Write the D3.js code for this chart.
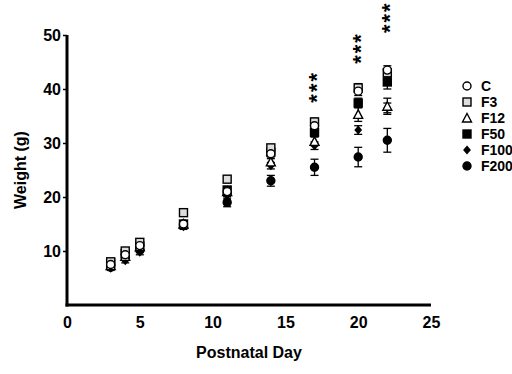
<!DOCTYPE html>
<html>
<head>
<meta charset="utf-8">
<script src="https://cdn.jsdelivr.net/npm/d3@7"></script>
<style>
  body { margin: 0; background: #fff; }
  text { font-family: "Liberation Sans", Arial, sans-serif; font-weight: bold; }
</style>
</head>
<body>
<div id="chart"></div>
<script>
"use strict";

// postnatal days and body weight (g) per group
const days = [3, 4, 5, 8, 11, 14, 17, 20, 22];
const groups = ["C", "F3", "F12", "F50", "F100", "F200"];

const weightC    = [7.5, 9.3, 11.0, 15.0, 21.0, 28.0, 33.2, 39.6, 43.5];
const weightF3   = [8.0, 10.0, 11.6, 17.1, 23.3, 29.1, 33.9, 40.2, 43.0];
const weightF12  = [7.3, 9.0, 10.8, 15.0, 21.0, 26.5, 30.3, 35.3, 36.8];
const weightF50  = [7.8, 9.5, 10.9, 15.0, 21.3, 28.3, 32.0, 37.4, 41.3];
const weightF100 = [6.8, 8.2, 9.8, 14.5, 19.5, 25.8, 29.5, 32.4, 36.5];
const weightF200 = [7.0, 8.8, 10.2, 14.8, 19.0, 23.0, 25.5, 27.4, 30.5];

const semC    = [0.4, 0.4, 0.5, 0.5, 0.6, 0.6, 0.7, 0.8, 0.8];
const semF3   = [0.4, 0.4, 0.5, 0.5, 0.6, 0.6, 0.7, 0.8, 0.8];
const semF12  = [0.4, 0.4, 0.5, 0.5, 0.6, 0.6, 0.8, 1.3, 1.5];
const semF50  = [0.4, 0.4, 0.5, 0.5, 0.6, 0.6, 0.8, 0.9, 1.3];
const semF100 = [0.4, 0.4, 0.5, 0.5, 0.6, 0.6, 0.7, 0.8, 0.9];
const semF200 = [0.4, 0.4, 0.5, 0.5, 0.8, 1.0, 1.5, 1.8, 2.2];

// "***" markers: day and the weight level of the middle star
const starDays = [17, 20, 22];
const starWeights = [40.4, 47.6, 53.3];

const xTicks = [0, 5, 10, 15, 20, 25];
const yTicks = [10, 20, 30, 40, 50];

const series = [
  { name: "C",    values: weightC,    sem: semC,    shape: "circle",   fill: "#fff" },
  { name: "F3",   values: weightF3,   sem: semF3,   shape: "square",   fill: "#ddd" },
  { name: "F12",  values: weightF12,  sem: semF12,  shape: "triangle", fill: "#fff" },
  { name: "F50",  values: weightF50,  sem: semF50,  shape: "square",   fill: "#000" },
  { name: "F100", values: weightF100, sem: semF100, shape: "diamond",  fill: "#000" },
  { name: "F200", values: weightF200, sem: semF200, shape: "circle",   fill: "#000" }
];

const width = 512, height = 374;
const margin = { top: 35, right: 81, bottom: 69, left: 67 };

const svg = d3.select("#chart")
  .append("svg")
  .attr("width", width)
  .attr("height", height);

const x = d3.scaleLinear().domain([0, 25]).range([margin.left, width - margin.right]);
const y = d3.scaleLinear().domain([0, 50]).range([height - margin.bottom, margin.top]);

// axes
const xAxis = svg.append("g")
  .attr("transform", `translate(0, ${height - margin.bottom})`)
  .call(d3.axisBottom(x).tickValues(xTicks).tickSize(0).tickPadding(12));
xAxis.select(".domain").attr("stroke-width", 3).attr("d", `M${margin.left - 1.5},0H${width - margin.right}`);
xAxis.selectAll("text").attr("font-size", 16).attr("font-weight", "bold").attr("fill", "#000");

const yAxis = svg.append("g")
  .attr("transform", `translate(${margin.left}, 0)`)
  .call(d3.axisLeft(y).tickValues(yTicks).tickSize(4).tickPadding(2));
yAxis.select(".domain").attr("stroke-width", 3).attr("d", `M0,${margin.top}V${height - margin.bottom + 1.5}`);
yAxis.selectAll(".tick line").attr("stroke-width", 1.5);
yAxis.selectAll("text").attr("font-size", 16).attr("font-weight", "bold").attr("fill", "#000");

svg.append("text")
  .attr("x", x(12.5))
  .attr("y", height - 16)
  .attr("text-anchor", "middle")
  .attr("font-size", 16)
  .text("Postnatal Day");

svg.append("text")
  .attr("transform", "rotate(-90)")
  .attr("x", -y(25))
  .attr("y", 26)
  .attr("text-anchor", "middle")
  .attr("font-size", 16)
  .text("Weight (g)");

// marker shapes
function marker(sel, shape, fill, size) {
  const s = size || 8;
  if (shape === "circle") {
    sel.append("circle").attr("r", s / 2 - 0.5);
  } else if (shape === "square") {
    sel.append("rect").attr("x", -s / 2 + 0.5).attr("y", -s / 2 + 0.5)
      .attr("width", s - 1).attr("height", s - 1);
  } else if (shape === "triangle") {
    sel.append("path").attr("d", `M0,${-s / 2}L${s / 2},${s / 2 - 0.5}L${-s / 2},${s / 2 - 0.5}Z`);
  } else if (shape === "diamond") {
    sel.append("path").attr("d", `M0,${-s / 2 + 0.5}L${s / 2 - 1},0L0,${s / 2 - 0.5}L${-s / 2 + 1},0Z`);
  }
  sel.selectAll("*").attr("fill", fill).attr("stroke", "#000").attr("stroke-width", 1.4);
}

// error bars
series.forEach(s => {
  const g = svg.append("g");
  days.forEach((d, i) => {
    const lo = y(s.values[i] - s.sem[i]), hi = y(s.values[i] + s.sem[i]);
    g.append("line").attr("x1", x(d)).attr("x2", x(d)).attr("y1", lo).attr("y2", hi)
      .attr("stroke", "#000").attr("stroke-width", 1.3);
    [lo, hi].forEach(v => g.append("line")
      .attr("x1", x(d) - 4).attr("x2", x(d) + 4).attr("y1", v).attr("y2", v)
      .attr("stroke", "#000").attr("stroke-width", 1.3));
  });
});

// points
[...series].reverse().forEach(s => {
  days.forEach((d, i) => {
    const g = svg.append("g").attr("transform", `translate(${x(d)}, ${y(s.values[i])})`);
    marker(g, s.shape, s.fill, s.shape === "diamond" ? 8 : 9);
  });
});

// significance stars, vertical text
const starSize = 22;
starDays.forEach((d, i) => {
  svg.append("text")
    .attr("transform", `translate(${x(d) + starSize * 0.45}, ${y(starWeights[i])}) rotate(-90)`)
    .attr("text-anchor", "middle")
    .attr("font-size", starSize)
    .attr("letter-spacing", 2)
    .text("***");
});

// legend
const legend = svg.append("g").attr("transform", "translate(467, 86)");
series.forEach((s, i) => {
  const row = legend.append("g").attr("transform", `translate(0, ${i * 16})`);
  const m = row.append("g");
  marker(m, s.shape, s.fill, s.shape === "diamond" ? 8 : 9);
  row.append("text").attr("x", 14).attr("y", 5).attr("font-size", 14).text(s.name);
});
</script>
</body>
</html>
